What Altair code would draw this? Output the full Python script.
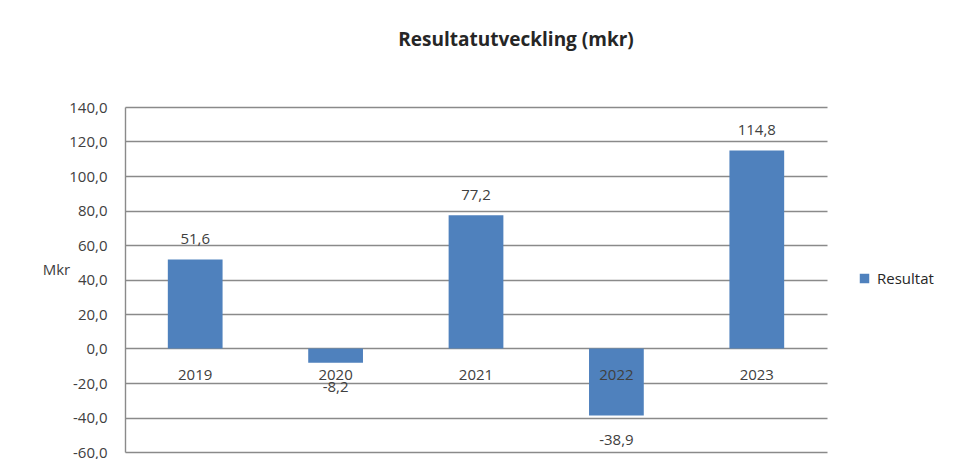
import altair as alt
import pandas as pd

years = ["2019", "2020", "2021", "2022", "2023"]
values = [51.6, -8.2, 77.2, -38.9, 114.8]
series = ["Resultat"] * 5
y_ticks = [-60, -40, -20, 0, 20, 40, 60, 80, 100, 120, 140]

df = pd.DataFrame({"year": years, "value": values, "series": series})

FONT = "Open Sans"
TXT = "#404040"
BLUE = "#4F81BD"
FS = 15
fmt = "replace(replace(format(datum.value, '.1f'), '.', ','), '\u2212', '-')"

x = alt.X("year:N", axis=None,
          scale=alt.Scale(paddingInner=0.61, paddingOuter=0.305))
yscale = alt.Scale(domain=[-60, 140], nice=False, zero=False)
yaxis = alt.Axis(values=y_ticks, labelExpr=fmt, title="Mkr",
                 labelOverlap=False,
                 titleAngle=0, titleX=-69, titleY=162,
                 titleBaseline="middle", titleAlign="center",
                 titleFont=FONT, titleFontSize=FS, titleFontWeight="normal",
                 titleColor=TXT, labelFont=FONT, labelFontSize=FS,
                 labelColor=TXT, labelPadding=18, ticks=False,
                 domain=True, domainColor="#8a8a8a", domainWidth=1.4,
                 grid=True, gridColor="#8a8a8a", gridWidth=1.3)

base = alt.Chart(df).transform_calculate(label=fmt)

bars = base.mark_bar().encode(
    x=x,
    y=alt.Y("value:Q", scale=yscale, axis=yaxis, title="Mkr"),
    y2=alt.datum(0),
    color=alt.Color("series:N",
                    scale=alt.Scale(domain=["Resultat"], range=[BLUE]),
                    legend=alt.Legend(title=None, orient="none", legendX=732,
                                      legendY=164, symbolType="square",
                                      symbolSize=90, symbolStrokeWidth=0,
                                      labelFont=FONT, labelFontSize=FS,
                                      labelColor="#262626", labelOffset=5)),
)

pos_labels = base.transform_filter("datum.value >= 0").mark_text(
    baseline="middle", dy=-20, font=FONT, fontSize=FS, color=TXT
).encode(x=x, y=alt.Y("value:Q", scale=yscale, axis=yaxis, title="Mkr"),
         text="label:N")

neg_labels = base.transform_filter("datum.value < 0").mark_text(
    baseline="middle", dy=24, font=FONT, fontSize=FS, color=TXT
).encode(x=x, y=alt.Y("value:Q", scale=yscale, axis=yaxis, title="Mkr"),
         text="label:N")

year_labels = base.mark_text(
    baseline="middle", dy=26, font=FONT, fontSize=FS, color=TXT
).encode(x=x, y=alt.datum(0, scale=yscale, axis=yaxis, title="Mkr"),
         text="year:N")

chart = alt.layer(bars, pos_labels, neg_labels, year_labels).properties(
    width=702, height=345,
    autosize=alt.AutoSizeParams(type="none"),
    padding={"left": 117, "top": 99, "right": 130, "bottom": 7},
    title=alt.TitleParams("Resultatutveckling (mkr)", font=FONT, fontSize=19,
                          fontWeight="bold", color="#262626", anchor="middle",
                          dx=40, offset=50),
).configure(background="white").configure_view(stroke=None)

chart.save("out.html", embed_options={"renderer": "svg", "actions": False})
